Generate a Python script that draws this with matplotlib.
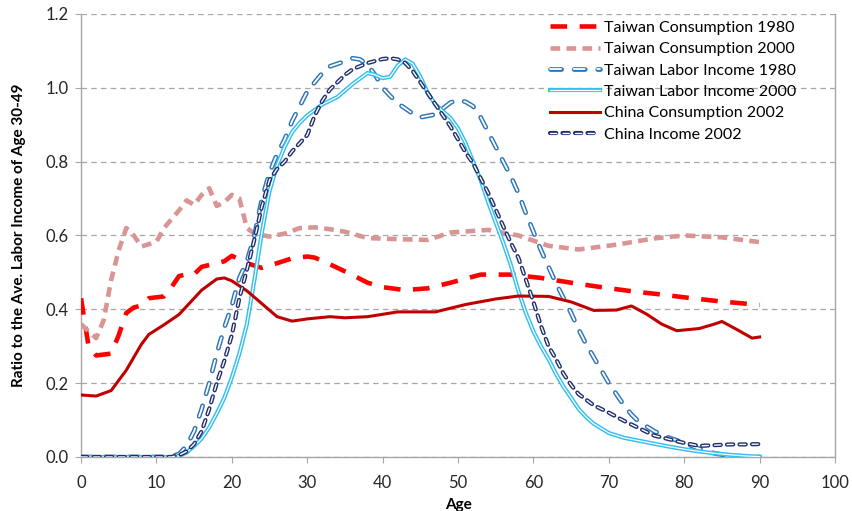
import matplotlib
matplotlib.use('Agg')
import matplotlib.pyplot as plt

plt.rcParams['font.family'] = ['Lato', 'DejaVu Sans']
plt.rcParams['lines.scale_dashes'] = False

# Taiwan consumption 1980
tc80_age = [0, 1, 2, 4, 5, 6, 7, 8, 9, 11, 12, 13, 14, 15, 16, 18, 19, 20, 21, 22, 24, 26, 28, 30, 31, 33,
            36, 38, 40, 43, 46, 49, 53, 57, 61, 65, 69, 73, 77, 81, 85, 90]
tc80_val = [0.43, 0.30, 0.275, 0.28, 0.33, 0.39, 0.405, 0.41, 0.43, 0.435, 0.46, 0.49, 0.495, 0.495, 0.515,
            0.525, 0.53, 0.545, 0.535, 0.525, 0.512, 0.525, 0.538, 0.543, 0.54, 0.522, 0.493, 0.472, 0.46,
            0.452, 0.457, 0.472, 0.494, 0.494, 0.485, 0.472, 0.46, 0.449, 0.44, 0.43, 0.421, 0.412]

# Taiwan consumption 2000
tc00_age = [0, 1, 2, 3, 4, 5, 6, 7, 8, 10, 11, 13, 14, 15, 16, 17, 18, 19, 20, 21, 22, 23, 25, 27, 29, 31,
            33, 35, 38, 42, 46, 49, 54, 58, 62, 66, 71, 76, 80, 85, 90]
tc00_val = [0.36, 0.34, 0.322, 0.37, 0.48, 0.56, 0.62, 0.60, 0.57, 0.583, 0.62, 0.668, 0.695, 0.683, 0.71,
            0.728, 0.68, 0.69, 0.71, 0.70, 0.62, 0.605, 0.597, 0.605, 0.62, 0.622, 0.617, 0.61, 0.593, 0.59,
            0.588, 0.608, 0.615, 0.60, 0.572, 0.562, 0.575, 0.592, 0.60, 0.595, 0.582]

# Taiwan labor income 1980
tl80_age = [0, 11, 12, 13, 14, 15, 16, 17, 18, 19, 20, 21, 22, 23, 24, 25, 26, 27, 28, 29, 30, 31, 32, 33,
            35, 36, 37, 38, 39, 40, 41, 42, 44, 45, 47, 49, 50, 51, 52, 53, 54, 55, 56, 57, 58, 59, 60, 61,
            62, 63, 64, 65, 66, 67, 68, 69, 70, 71, 72, 73, 74, 75, 76, 78, 80, 82, 84, 86, 88, 90]
tl80_val = [0, 0, 0.002, 0.008, 0.03, 0.07, 0.13, 0.2, 0.28, 0.35, 0.41, 0.485, 0.53, 0.6, 0.7, 0.77, 0.82,
            0.86, 0.91, 0.95, 0.99, 1.015, 1.04, 1.058, 1.072, 1.08, 1.077, 1.062, 1.035, 1.0, 0.978, 0.958,
            0.93, 0.92, 0.928, 0.96, 0.967, 0.962, 0.95, 0.92, 0.88, 0.84, 0.8, 0.76, 0.715, 0.66, 0.61,
            0.56, 0.515, 0.47, 0.43, 0.39, 0.345, 0.305, 0.27, 0.235, 0.2, 0.17, 0.14, 0.115, 0.095, 0.083,
            0.07, 0.052, 0.038, 0.022, 0.01, 0.003, 0.0, 0.0]

# Taiwan labor income 2000
tl00_age = [0, 12, 13, 14, 15, 16, 17, 18, 19, 20, 21, 22, 23, 24, 25, 26, 27, 28, 29, 30, 31, 32, 34, 36,
            38, 39, 40, 41, 42, 43, 44, 45, 46, 47, 49, 50, 51, 52, 53, 54, 55, 56, 57, 58, 59, 60, 61, 62,
            63, 64, 65, 66, 67, 68, 70, 72, 74, 76, 78, 80, 82, 84, 86, 88, 90]
tl00_val = [0, 0, 0.003, 0.012, 0.03, 0.05, 0.08, 0.118, 0.16, 0.215, 0.28, 0.36, 0.48, 0.61, 0.72, 0.79,
            0.84, 0.88, 0.905, 0.925, 0.94, 0.955, 0.975, 1.01, 1.04, 1.035, 1.026, 1.03, 1.06, 1.077, 1.065,
            1.03, 0.985, 0.955, 0.918, 0.89, 0.85, 0.8, 0.75, 0.69, 0.635, 0.58, 0.52, 0.45, 0.39, 0.34,
            0.3, 0.265, 0.225, 0.19, 0.16, 0.13, 0.108, 0.09, 0.065, 0.052, 0.044, 0.036, 0.028, 0.021,
            0.015, 0.01, 0.006, 0.003, 0.001]

# China consumption 2002
cc02_age = [0, 2, 4, 6, 8, 9, 11, 13, 16, 18, 19, 20, 22, 24, 26, 28, 30, 33, 35, 38, 42, 47, 51, 55, 58,
            62, 65, 68, 71, 73, 75, 77, 79, 82, 84, 85, 87, 89, 90]
cc02_val = [0.168, 0.165, 0.18, 0.235, 0.305, 0.332, 0.358, 0.386, 0.452, 0.482, 0.485, 0.477, 0.45, 0.415,
            0.38, 0.368, 0.374, 0.38, 0.377, 0.38, 0.393, 0.393, 0.413, 0.428, 0.436, 0.435, 0.42, 0.397,
            0.398, 0.409, 0.387, 0.36, 0.342, 0.348, 0.36, 0.367, 0.345, 0.322, 0.325]

# China income 2002
ci02_age = [0, 12, 13, 14, 15, 16, 17, 18, 19, 20, 21, 22, 23, 24, 25, 26, 27, 28, 29, 30, 31, 32, 33, 34,
            35, 36, 38, 40, 41, 42, 43, 44, 45, 46, 47, 48, 49, 50, 51, 52, 53, 54, 55, 56, 57, 58, 59, 60,
            61, 62, 63, 64, 65, 66, 67, 68, 70, 72, 74, 76, 78, 80, 82, 84, 86, 88, 90]
ci02_val = [0, 0, 0.005, 0.015, 0.035, 0.07, 0.13, 0.2, 0.26, 0.33, 0.43, 0.507, 0.59, 0.68, 0.75, 0.78,
            0.8, 0.828, 0.85, 0.872, 0.925, 0.965, 0.995, 1.015, 1.035, 1.05, 1.067, 1.078, 1.08, 1.077,
            1.067, 1.045, 1.015, 0.985, 0.955, 0.925, 0.895, 0.86, 0.825, 0.795, 0.755, 0.715, 0.67, 0.625,
            0.58, 0.54, 0.48, 0.42, 0.355, 0.3, 0.265, 0.225, 0.195, 0.17, 0.155, 0.14, 0.12, 0.098, 0.078,
            0.058, 0.048, 0.038, 0.03, 0.032, 0.034, 0.034, 0.035]

fig = plt.figure(figsize=(8.52, 5.11), dpi=100)
ax = fig.add_axes([0.0951, 0.1057, 0.885, 0.867])

# grid + frame
ax.set_xlim(0, 100)
ax.set_ylim(0, 1.2)
ax.set_xticks(range(0, 101, 10))
ax.set_yticks([0, 0.2, 0.4, 0.6, 0.8, 1.0, 1.2])
ax.set_yticklabels(['0.0', '0.2', '0.4', '0.6', '0.8', '1.0', '1.2'])
ax.yaxis.grid(True, linestyle=(0, (4, 3)), color='#a6a6a6', linewidth=0.9)
ax.set_axisbelow(True)
ax.spines['top'].set_visible(False)
for s in ['left', 'right', 'bottom']:
    ax.spines[s].set_color('#a6a6a6')
    ax.spines[s].set_linewidth(1.0)
ax.tick_params(axis='both', direction='out', length=4, color='#a6a6a6', labelsize=12,
               labelcolor='#262626')
ax.tick_params(axis='x', pad=9)
ax.tick_params(axis='y', pad=5)

# series
h1, = ax.plot(tc80_age, tc80_val, color='#ff0000', lw=3.3, linestyle=(0, (12, 9)), zorder=3)
h2, = ax.plot(tc00_age, tc00_val, color='#d99594', lw=3.3, linestyle=(0, (7, 4.5)), zorder=3)

h3a, = ax.plot(tl80_age, tl80_val, color='#2e75b6', lw=3.4, linestyle=(0, (8, 9)),
               dash_capstyle='round', zorder=4)
h3b, = ax.plot(tl80_age, tl80_val, color='white', lw=1.3, linestyle=(0, (8, 9)),
               dash_capstyle='round', zorder=4)

h4a, = ax.plot(tl00_age, tl00_val, color='#33bff0', lw=3.0, zorder=4)
h4b, = ax.plot(tl00_age, tl00_val, color='white', lw=0.9, zorder=4)

h5, = ax.plot(cc02_age, cc02_val, color='#c00000', lw=2.2, zorder=5)

h6a, = ax.plot(ci02_age, ci02_val, color='#1f2d6b', lw=3.0, linestyle=(0, (4.5, 4.5)),
               dash_capstyle='round', zorder=6)
h6b, = ax.plot(ci02_age, ci02_val, color='white', lw=1.0, linestyle=(0, (4.5, 4.5)),
               dash_capstyle='round', zorder=6)

ax.legend([h1, h2, (h3a, h3b), (h4a, h4b), h5, (h6a, h6b)],
          ['Taiwan Consumption 1980', 'Taiwan Consumption 2000', 'Taiwan Labor Income 1980',
           'Taiwan Labor Income 2000', 'China Consumption 2002', 'China Income 2002'],
          loc='upper left', bbox_to_anchor=(0.622, 0.985), frameon=False, fontsize=11.5,
          handlelength=3.1, handletextpad=0.3, labelspacing=0.45, borderpad=0, borderaxespad=0)

ax.set_xlabel('Age', fontsize=11, fontweight='bold', labelpad=5)
ax.set_ylabel('Ratio to the Ave. Labor Income of Age 30-49', fontsize=11, fontweight='bold', labelpad=14)

fig.savefig('out.png', dpi=100)
